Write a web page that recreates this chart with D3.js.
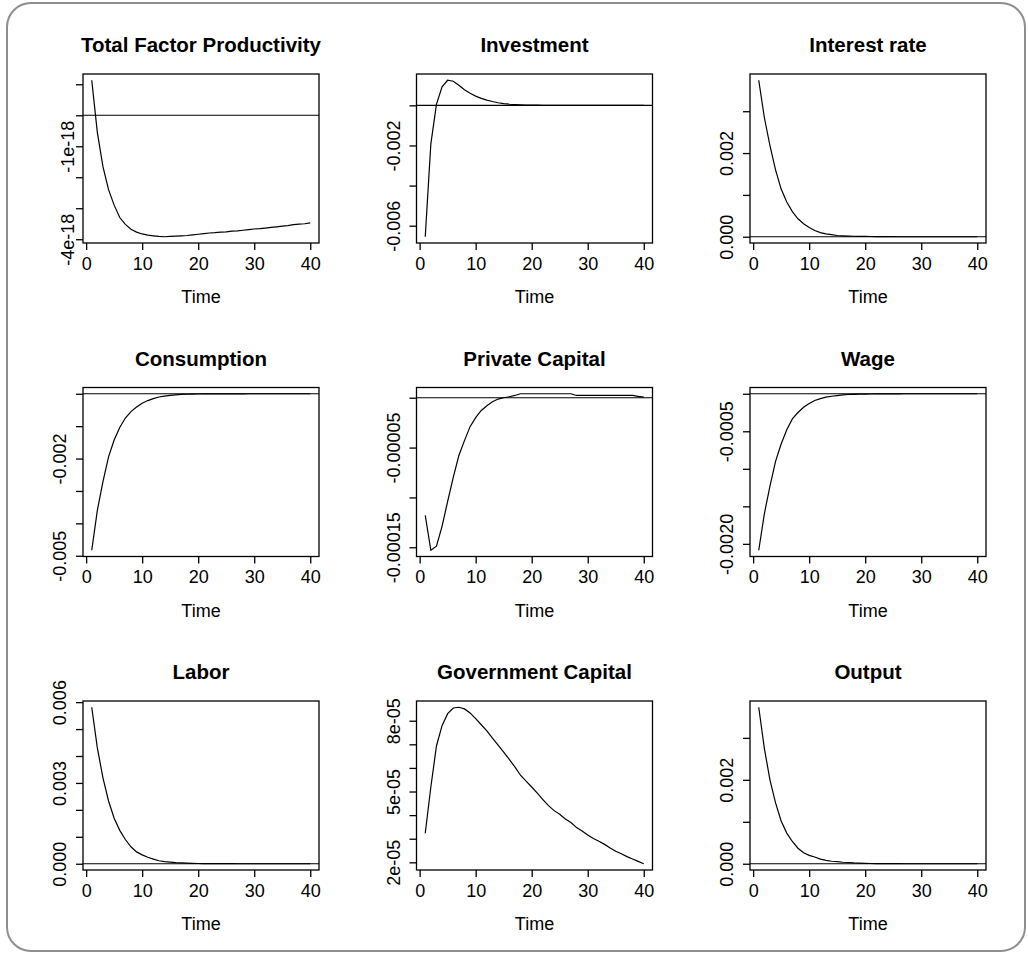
<!DOCTYPE html>
<html>
  <head>
    <title>Impulse responses</title>
    <script src="https://cdn.jsdelivr.net/npm/d3@7"></script>
    <style>
      body { margin: 0; background: #ffffff; }
      text { font-family: "Liberation Sans", Arial, sans-serif; fill: #000; }
    </style>
  </head>
  <body>
    <svg width="1028" height="953" id="mainsvg"></svg>
    <script>
      // time axis
      const periods = d3.range(1, 41);
      const timeTicks = [0, 10, 20, 30, 40];

      // responses, one value per period 1..40
      const tfp = [1.13e-18, -0.55e-18, -1.66e-18, -2.4e-18, -2.9e-18, -3.3e-18, -3.52e-18, -3.68e-18, -3.77e-18, -3.83e-18,
        -3.87e-18, -3.89e-18, -3.91e-18, -3.92e-18, -3.91e-18, -3.9e-18, -3.89e-18, -3.88e-18, -3.86e-18, -3.84e-18,
        -3.82e-18, -3.8e-18, -3.79e-18, -3.77e-18, -3.76e-18, -3.74e-18, -3.73e-18, -3.71e-18, -3.69e-18, -3.67e-18,
        -3.66e-18, -3.64e-18, -3.62e-18, -3.6e-18, -3.58e-18, -3.56e-18, -3.53e-18, -3.51e-18, -3.5e-18, -3.47e-18];
      const investment = [-0.00655, -0.00192, 0.00005, 0.00092, 0.00125, 0.0012, 0.001, 0.00078, 0.0006, 0.00046,
        0.00035, 0.00026, 0.00019, 0.00013, 0.00009, 0.00006, 0.00004, 0.000025, 0.000015, 0.00001,
        0.000006, 0.000004, 0.000002, 0.000001, 0.0000005, 0, 0, 0, 0, 0,
        0, 0, 0, 0, 0, 0, 0, 0, 0, 0];
      const interestRate = [0.00374, 0.00285, 0.00218, 0.0016, 0.00114, 0.00083, 0.0006, 0.00043, 0.00031, 0.00022,
        0.00015, 0.0001, 0.00007, 0.00005, 0.00003, 0.000022, 0.000016, 0.000012, 0.00001, 0.000008,
        0.000006, 0.000004, 0.000002, 0.000001, 0.0000005, 0, 0, 0, 0, 0,
        0, 0, 0, 0, 0, 0, 0, 0, 0, 0];
      const consumption = [-0.00483, -0.0036, -0.00271, -0.00195, -0.00143, -0.00104, -0.00075, -0.00055, -0.00041, -0.00029,
        -0.00021, -0.00015, -0.0001, -0.000075, -0.00005, -0.000035, -0.00002, -0.000015, -0.00001, -0.000008,
        -0.000005, -0.000004, -0.000003, -0.000002, -0.000002, -0.000001, -0.000001, -0.000001, 0, 0,
        0, 0, 0, 0, 0, 0, 0, 0, 0, 0];
      const privateCapital = [-0.000118, -0.000153, -0.000149, -0.000129, -0.000104, -0.00008, -0.000058, -0.000043, -0.000029, -0.00002,
        -0.0000128, -0.000008, -0.000004, -0.0000013, 0, 0.000001, 0.0000023, 0.000004, 0.000004, 0.000004,
        0.000004, 0.000004, 0.000004, 0.000004, 0.000004, 0.000004, 0.000004, 0.0000023, 0.0000023, 0.0000023,
        0.0000023, 0.0000023, 0.0000023, 0.0000023, 0.0000023, 0.0000023, 0.0000023, 0.0000023, 0.0000013, 0.0000007];
      const wage = [-0.002085, -0.0016, -0.00123, -0.0009, -0.00067, -0.00048, -0.000335, -0.00025, -0.00018, -0.00013,
        -0.00009, -0.000065, -0.000045, -0.000033, -0.000025, -0.000016, -0.00001, -0.000008, -0.000005, -0.000004,
        -0.000003, -0.000002, -0.000002, -0.000001, -0.000001, -0.000001, 0, 0, 0, 0,
        0, 0, 0, 0, 0, 0, 0, 0, 0, 0];
      const labor = [0.00581, 0.0043, 0.00319, 0.00233, 0.00169, 0.00124, 0.0009, 0.00063, 0.00044, 0.00033,
        0.00024, 0.00017, 0.00011, 0.00008, 0.00006, 0.00004, 0.00003, 0.00002, 0.000012, 0.000008,
        0.000005, 0.000004, 0.000003, 0.000002, 0.000001, 0.000001, 0, 0, 0, 0,
        0, 0, 0, 0, 0, 0, 0, 0, 0, 0];
      const govCapital = [3.23e-5, 5.19e-5, 6.93e-5, 7.79e-5, 8.3e-5, 8.54e-5, 8.57e-5, 8.5e-5, 8.33e-5, 8.09e-5,
        7.83e-5, 7.57e-5, 7.26e-5, 6.97e-5, 6.67e-5, 6.36e-5, 6.04e-5, 5.69e-5, 5.44e-5, 5.19e-5,
        4.93e-5, 4.66e-5, 4.4e-5, 4.19e-5, 4.04e-5, 3.84e-5, 3.69e-5, 3.47e-5, 3.33e-5, 3.16e-5,
        3.01e-5, 2.89e-5, 2.76e-5, 2.61e-5, 2.47e-5, 2.36e-5, 2.24e-5, 2.14e-5, 2.04e-5, 1.94e-5];
      const output = [0.00373, 0.00275, 0.002, 0.00145, 0.00102, 0.00073, 0.00053, 0.00037, 0.00026, 0.0002,
        0.00016, 0.00011, 0.00008, 0.00006, 0.00005, 0.000035, 0.00003, 0.00002, 0.000015, 0.00001,
        0.000006, 0.000004, 0.000003, 0.000002, 0.000001, 0.000001, 0, 0, 0, 0,
        0, 0, 0, 0, 0, 0, 0, 0, 0, 0];

      // panel titles and y ticks (empty label = unlabeled tick)
      const titles = ['Total Factor Productivity', 'Investment', 'Interest rate',
        'Consumption', 'Private Capital', 'Wage',
        'Labor', 'Government Capital', 'Output'];
      const seriesList = [tfp, investment, interestRate, consumption, privateCapital, wage, labor, govCapital, output];
      const yTicks = [
        [1e-18, 0, -1e-18, -2e-18, -3e-18, -4e-18],
        [0, -0.002, -0.004, -0.006],
        [0, 0.001, 0.002, 0.003],
        [0, -0.001, -0.002, -0.003, -0.004, -0.005],
        [0, -0.00005, -0.0001, -0.00015],
        [0, -0.0005, -0.001, -0.0015, -0.002],
        [0, 0.001, 0.002, 0.003, 0.004, 0.005, 0.006],
        [2e-5, 3e-5, 4e-5, 5e-5, 6e-5, 7e-5, 8e-5],
        [0, 0.001, 0.002, 0.003]
      ];
      const yTickLabels = [
        ['', '', '-1e-18', '', '', '-4e-18'],
        ['', '-0.002', '', '-0.006'],
        ['0.000', '', '0.002', ''],
        ['', '', '-0.002', '', '', '-0.005'],
        ['', '-0.00005', '', '-0.00015'],
        ['', '-0.0005', '', '', '-0.0020'],
        ['0.000', '', '', '0.003', '', '', '0.006'],
        ['2e-05', '', '', '5e-05', '', '', '8e-05'],
        ['0.000', '', '0.002', '']
      ];

      const svg = d3.select('#mainsvg');
      const width = +svg.attr('width');
      const height = +svg.attr('height');

      // rounded frame
      svg.append('rect')
        .attr('x', 7).attr('y', 3)
        .attr('width', width - 10).attr('height', height - 5)
        .attr('rx', 24).attr('ry', 24)
        .attr('fill', '#fff')
        .attr('stroke', '#8e8e8e')
        .attr('stroke-width', 2);

      const colLeft = [83, 416.5, 750];
      const rowTop = [74, 387.5, 701];
      const plotW = 236;
      const plotH = 169;
      const labelOffset = [9, 17, 17, 17, 17, 17, 17, 17, 17];

      const xScale = d3.scaleLinear()
        .domain([1 - 0.04 * 39, 40 + 0.04 * 39])
        .range([0, plotW]);

      seriesList.forEach((values, i) => {
        const col = i % 3, row = Math.floor(i / 3);
        const g = svg.append('g')
          .attr('transform', `translate(${colLeft[col]}, ${rowTop[row]})`);

        const [lo, hi] = d3.extent(values);
        const pad = (hi - lo) * 0.04;
        const yScale = d3.scaleLinear().domain([lo - pad, hi + pad]).range([plotH, 0]);

        // zero line
        if (lo - pad < 0 && hi + pad > 0) {
          g.append('line')
            .attr('x1', 0).attr('x2', plotW)
            .attr('y1', yScale(0)).attr('y2', yScale(0))
            .attr('stroke', '#000').attr('stroke-width', 1.2);
        }

        const line = d3.line()
          .x((d, j) => xScale(periods[j]))
          .y(d => yScale(d));
        g.append('path')
          .datum(values)
          .attr('d', line)
          .attr('fill', 'none')
          .attr('stroke', '#000')
          .attr('stroke-width', 1.2);

        g.append('rect')
          .attr('width', plotW).attr('height', plotH)
          .attr('fill', 'none')
          .attr('stroke', '#000')
          .attr('stroke-width', 1.3);

        // x axis
        const xAxisGroup = g.append('g')
          .attr('transform', `translate(0, ${plotH})`)
          .call(d3.axisBottom(xScale).tickValues(timeTicks).tickSize(7).tickPadding(7));
        xAxisGroup.select('.domain').remove();
        xAxisGroup.selectAll('.tick line').attr('stroke', '#000').attr('stroke-width', 1.3);
        xAxisGroup.selectAll('text').attr('font-size', 18).attr('font-family', null).attr('fill', '#000');

        // y axis, labels turned upright
        const labels = yTickLabels[i];
        const yAxisGroup = g.append('g')
          .call(d3.axisLeft(yScale).tickValues(yTicks[i]).tickSize(7).tickFormat((d, j) => labels[j]));
        yAxisGroup.select('.domain').remove();
        yAxisGroup.selectAll('.tick line').attr('stroke', '#000').attr('stroke-width', 1.3);
        yAxisGroup.selectAll('text')
          .attr('font-size', 18).attr('font-family', null).attr('fill', '#000')
          .attr('text-anchor', 'middle')
          .attr('dy', null)
          .attr('x', 0)
          .attr('y', -labelOffset[i])
          .attr('transform', 'rotate(-90)');

        g.append('text')
          .attr('x', plotW / 2).attr('y', -22)
          .attr('text-anchor', 'middle')
          .attr('font-size', 20.5)
          .attr('font-weight', 'bold')
          .text(titles[i]);

        g.append('text')
          .attr('x', plotW / 2).attr('y', plotH + 60)
          .attr('text-anchor', 'middle')
          .attr('font-size', 18)
          .text('Time');
      });
    </script>
  </body>
</html>
